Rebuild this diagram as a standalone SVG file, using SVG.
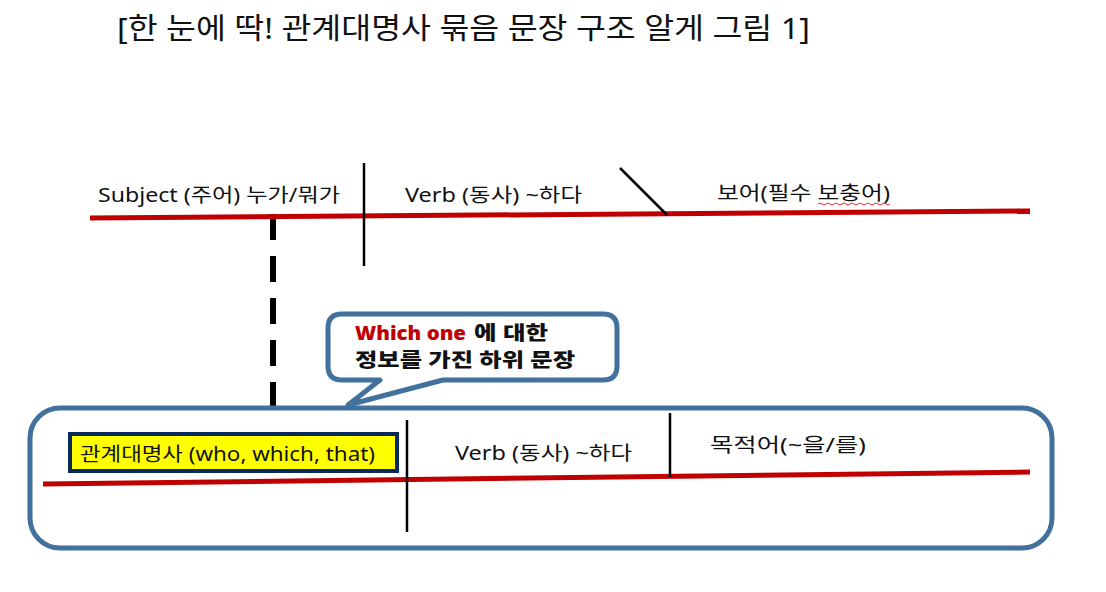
<svg xmlns="http://www.w3.org/2000/svg" width="1106" height="592" viewBox="0 0 1106 592">
<style>
text{font-family:"Noto Sans","Noto Sans CJK KR",sans-serif;fill:#111}
.lbl{font-size:19px}
.red{stroke:#c00000;stroke-width:5;fill:none}
.blk{stroke:#000;stroke-width:2.5;fill:none}
.box{fill:#fff;stroke:#41719c;stroke-width:5}
.b{font-weight:900;font-size:19px}
</style>
<rect width="1106" height="592" fill="#fff"/>
<g id="title"><text x="117" y="39" font-size="29" textLength="693" lengthAdjust="spacingAndGlyphs">[한 눈에 딱! 관계대명사 묶음 문장 구조 알게 그림 1]</text></g>
<g id="connectors">
<line x1="273" y1="214" x2="273" y2="408" stroke="#000" stroke-width="6" stroke-dasharray="26,16"/>
</g>
<g id="main-clause">
<line class="red" x1="90" y1="218" x2="1030" y2="211"/>
<line class="blk" x1="364" y1="163" x2="364" y2="266"/>
<line class="blk" x1="620" y1="168" x2="667" y2="215"/>
<text class="lbl" x="98" y="202" textLength="242" lengthAdjust="spacingAndGlyphs">Subject (주어) 누가/뭐가</text>
<text class="lbl" x="405" y="202" textLength="177" lengthAdjust="spacingAndGlyphs">Verb (동사) ~하다</text>
<text class="lbl" x="717" y="200" textLength="173" lengthAdjust="spacingAndGlyphs">보어(필수 보충어)</text>
<path d="M818 204 q2 -2 4 0 t4 0 t4 0 t4 0 t4 0 t4 0 t4 0 t4 0 t4 0 t4 0 t4 0 t4 0 t4 0 t4 0 t4 0 t4 0 t4 0 t4 0" stroke="#e03030" stroke-width="1" fill="none"/>
</g>
<g id="sub-clause">
<rect class="box" x="30" y="408" width="1022" height="140" rx="30"/>
<line class="red" x1="43" y1="484" x2="1030" y2="472"/>
<line class="blk" x1="407" y1="420" x2="407" y2="532"/>
<line class="blk" x1="670" y1="413" x2="670" y2="477"/>
<text class="lbl" x="455" y="460" textLength="177" lengthAdjust="spacingAndGlyphs">Verb (동사) ~하다</text>
<text class="lbl" x="710" y="452" textLength="156" lengthAdjust="spacingAndGlyphs">목적어(~을/를)</text>
</g>
<g id="relative-pronoun">
<rect x="70" y="434" width="327" height="37" fill="#ffff00" stroke="#0b2a5c" stroke-width="4"/>
<text class="lbl" x="80" y="461" textLength="295" lengthAdjust="spacingAndGlyphs">관계대명사 (who, which, that)</text>
</g>
<g id="callout">
<path class="box" d="M342 314 H603 Q617 314 617 328 V366 Q617 380 603 380 H443 L348 405 L380 380 H342 Q328 380 328 366 V328 Q328 314 342 314 Z" stroke-linejoin="round"/>
<text class="b" x="355" y="340" fill="#c00000" style="fill:#c00000" textLength="111" lengthAdjust="spacingAndGlyphs">Which one</text>
<text class="b" x="474" y="340" textLength="74" lengthAdjust="spacingAndGlyphs">에 대한</text>
<text class="b" x="355" y="367" textLength="220" lengthAdjust="spacingAndGlyphs">정보를 가진 하위 문장</text>
</g>
</svg>
